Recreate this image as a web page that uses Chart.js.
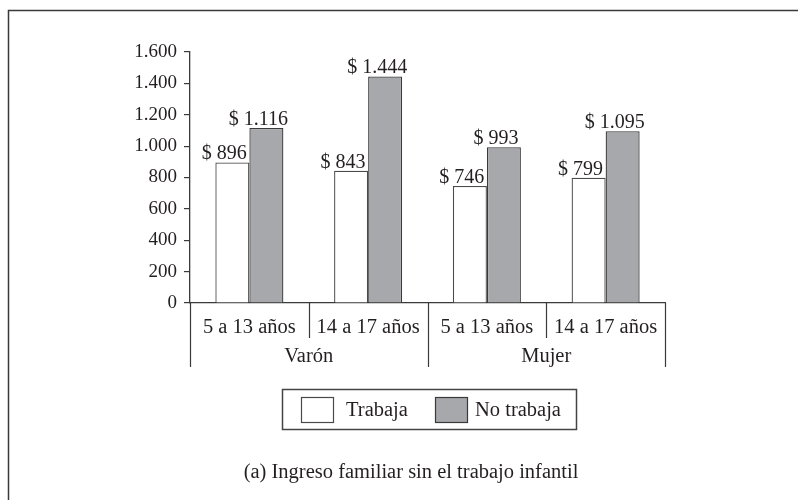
<!DOCTYPE html>
<html>
<head>
<meta charset="utf-8">
<script src="https://cdn.jsdelivr.net/npm/chart.js@4"></script>
<style>
  html, body { margin: 0; padding: 0; background: #fff; }
  #wrap { position: absolute; left: 0; top: 0; width: 798px; height: 500px; }
</style>
</head>
<body>
<div id="wrap"><canvas id="c" width="798" height="500"></canvas></div>
<script>
const categories = ["5 a 13 años", "14 a 17 años", "5 a 13 años", "14 a 17 años"];
const groups = ["Varón", "Mujer"];
const groupSpans = [2, 2];
const trabaja = [896, 843, 746, 799];
const noTrabaja = [1116, 1444, 993, 1095];
const seriesNames = ["Trabaja", "No trabaja"];
const yTicks = [0, 200, 400, 600, 800, 1000, 1200, 1400, 1600];
const chartTitle = "(a) Ingreso familiar sin el trabajo infantil";

const FONT = '"Liberation Serif", "Times New Roman", serif';
const INK = '#231f20';
const LINE = '#3a3a3a';

function fmt(v) {
  return String(v).replace(/\B(?=(\d{3})+(?!\d))/g, '.');
}

const decor = {
  id: 'decor',
  beforeDraw(chart) {
    const ctx = chart.ctx;
    ctx.save();
    ctx.strokeStyle = LINE;
    ctx.lineWidth = 1.5;
    ctx.strokeRect(8.5, 10.5, 900, 900);
    ctx.restore();
  },
  afterDatasetsDraw(chart) {
    const ctx = chart.ctx;
    ctx.save();
    ctx.font = '20px ' + FONT;
    ctx.fillStyle = INK;
    ctx.textAlign = 'center';
    ctx.textBaseline = 'alphabetic';
    chart.data.datasets.forEach((ds, di) => {
      const meta = chart.getDatasetMeta(di);
      meta.data.forEach((bar, i) => {
        ctx.fillText('$ ' + fmt(ds.data[i]), bar.x - 8, bar.y - 3);
      });
    });
    ctx.restore();
  },
  afterDraw(chart) {
    const ctx = chart.ctx;
    const xs = chart.scales.x;
    const area = chart.chartArea;
    const y0 = area.bottom;
    const n = categories.length;
    const step = (area.right - area.left) / n;
    ctx.save();
    ctx.strokeStyle = LINE;
    ctx.lineWidth = 1.2;
    let idx = 0;
    const groupBounds = [0];
    groupSpans.forEach(s => { idx += s; groupBounds.push(idx); });
    for (let k = 0; k <= n; k++) {
      const x = Math.round(area.left + k * step) + 0.5;
      const isGroup = groupBounds.includes(k);
      ctx.beginPath();
      ctx.moveTo(x, y0);
      ctx.lineTo(x, y0 + (isGroup ? 64 : 35));
      ctx.stroke();
    }
    ctx.fillStyle = INK;
    ctx.font = '20.5px ' + FONT;
    ctx.textAlign = 'center';
    ctx.textBaseline = 'middle';
    categories.forEach((c, i) => {
      ctx.fillText(c, xs.getPixelForValue(i), y0 + 25);
    });
    groups.forEach((g, gi) => {
      const a = area.left + groupBounds[gi] * step;
      const b = area.left + groupBounds[gi + 1] * step;
      ctx.fillText(g, (a + b) / 2, y0 + 54);
    });
    // legend
    const lx = 282, ly = 389, lw = 294, lh = 40;
    ctx.lineWidth = 1.5;
    ctx.strokeStyle = '#444';
    ctx.strokeRect(lx + 0.5, ly + 0.5, lw, lh);
    const sw = [{x: 301, tx: 346}, {x: 435, tx: 475}];
    ctx.textAlign = 'left';
    chart.data.datasets.forEach((ds, di) => {
      ctx.fillStyle = ds.backgroundColor;
      ctx.fillRect(sw[di].x, 397, 32, 25);
      ctx.strokeStyle = ds.borderColor;
      ctx.lineWidth = 1.2;
      ctx.strokeRect(sw[di].x + 0.5, 397.5, 32, 25);
      ctx.fillStyle = INK;
      ctx.fillText(ds.label, sw[di].tx, 411);
    });
    // title
    ctx.textAlign = 'center';
    ctx.fillText(chartTitle, 411, 473);
    ctx.restore();
  }
};

new Chart(document.getElementById('c'), {
  type: 'bar',
  data: {
    labels: categories,
    datasets: [
      { label: seriesNames[0], data: trabaja, backgroundColor: '#ffffff', borderColor: '#4a4a4a', borderWidth: 1.3 },
      { label: seriesNames[1], data: noTrabaja, backgroundColor: '#a7a8ab', borderColor: '#3a3a3a', borderWidth: 1.3 }
    ]
  },
  options: {
    responsive: false,
    animation: false,
    events: [],
    layout: { padding: { top: 52, right: 133, bottom: 0, left: 0 } },
    datasets: { bar: { categoryPercentage: 0.573, barPercentage: 1.0 } },
    plugins: { legend: { display: false }, title: { display: false }, tooltip: { enabled: false } },
    scales: {
      x: {
        type: 'category',
        offset: true,
        grid: { display: false },
        border: { display: true, color: LINE, width: 1.3 },
        ticks: { display: false },
        afterFit(s) { s.height = 197; }
      },
      y: {
        min: 0, max: 1600,
        afterBuildTicks(s) { s.ticks = yTicks.map(v => ({ value: v })); },
        grid: { display: true, drawOnChartArea: false, drawTicks: true, tickLength: 6, color: LINE, lineWidth: 1.2 },
        border: { display: true, color: LINE, width: 1.3 },
        ticks: { font: { family: FONT, size: 19 }, color: INK, padding: 7, callback: v => fmt(v) },
        afterFit(s) { s.width = 190; }
      }
    }
  },
  plugins: [decor]
});
</script>
</body>
</html>
